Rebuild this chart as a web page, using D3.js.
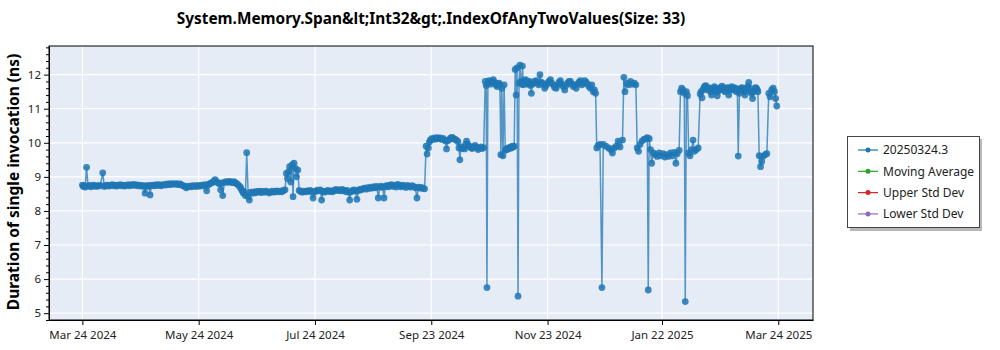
<!DOCTYPE html>
<html><head><meta charset="utf-8">
<script src="https://cdn.jsdelivr.net/npm/d3@7"></script>
<style>body{margin:0;background:#fff}svg{display:block}</style>
</head><body><svg id="c" width="1000" height="350"></svg>
<script>
const chartTitle = "System.Memory.Span&lt;Int32&gt;.IndexOfAnyTwoValues(Size: 33)";
const yLabel = "Duration of single invocation (ns)";
const seriesNames = ["20250324.3", "Moving Average", "Upper Std Dev", "Lower Std Dev"];
const seriesColors = ["#1f77b4", "#2ca02c", "#d62728", "#9467bd"];
const baseDate = "2024-03-24";
// [days after baseDate, duration in ns]
const samples = [
 [0,8.76],[0.5,8.72],[1,8.74],[1.5,8.70],[2.2,9.28],[3,8.73],[3.7,8.75],[4.5,8.71],[5.3,8.74],[6,8.76],[7,8.72],[7.8,8.74],[8.6,8.73],[9.4,8.75],[10.7,9.12],[11.5,8.72],[12.3,8.74],[13,8.76],[14,8.73],[14.8,8.75],[15.6,8.77],[16.5,8.74],[17.3,8.76],[18,8.73],[19,8.75],[19.8,8.77],[20.6,8.74],[21.5,8.76],[22.3,8.73],[23,8.75],[24,8.77],[24.8,8.74],[25.6,8.76],[26.5,8.78],[27.3,8.75],[28,8.77],[29,8.74],[29.8,8.76],[30.6,8.73],[31.5,8.75],[32.2,8.72],[32.9,8.52],[33.5,8.74],[34.2,8.72],[35,8.75],[35.5,8.47],[36.2,8.74],[37,8.76],[38,8.74],[38.8,8.77],[39.6,8.75],[40.5,8.77],[41.3,8.74],[42,8.76],[43,8.78],[43.8,8.76],[44.6,8.79],[45.5,8.77],[46.3,8.80],[47,8.78],[48,8.80],[48.8,8.78],[49.6,8.80],[50.5,8.77],[51.3,8.79],[52,8.76],[53,8.74],[53.8,8.72],[54.5,8.68],[55.3,8.71],[56,8.73],[57,8.71],[57.8,8.74],[58.6,8.72],[59.5,8.74],[60.3,8.72],[61,8.75],[62,8.73],[62.8,8.76],[63.5,8.74],[64.3,8.77],[65.2,8.59],[65.9,8.76],[66.5,8.79],[67.3,8.81],[68,8.83],[68.8,8.87],[69.6,8.92],[70.3,8.86],[71,8.83],[71.8,8.80],[72.5,8.62],[73.1,8.82],[73.6,8.45],[74.5,8.84],[75.3,8.86],[76,8.84],[77,8.87],[77.8,8.85],[78.6,8.83],[79.5,8.86],[80.3,8.82],[81,8.80],[81.8,8.76],[82.5,8.72],[83,8.68],[83.5,8.62],[84,8.58],[84.5,8.52],[85,8.56],[85.5,8.45],[86.2,9.71],[87,8.42],[87.6,8.32],[88.3,8.55],
 [89,8.52],[89.8,8.56],[90.5,8.53],[91.3,8.57],[92,8.55],[93,8.58],[93.8,8.54],[94.6,8.57],[95.5,8.55],[96.3,8.58],[97,8.56],[98,8.53],[98.8,8.56],[99.6,8.58],[100.5,8.55],[101.3,8.57],[102,8.59],[103,8.56],[103.8,8.58],[104.6,8.56],[105.5,8.6],[106.3,8.62],[107,9.1],[107.6,8.95],[108.2,9.15],[108.7,9.3],[109.3,8.85],[110,9.35],[110.5,8.42],[111,9.4],[111.7,9.25],[112.3,9.0],[113,9.2],[113.7,8.6],[114.5,8.57],[115.3,8.55],[116,8.58],[117,8.56],[117.8,8.59],[118.6,8.57],[119.5,8.6],[120.3,8.57],[121,8.38],[121.8,8.56],[122.5,8.58],[123.3,8.61],[124,8.59],[124.8,8.62],[125.5,8.32],[126.2,8.57],[127,8.55],[128,8.58],[128.8,8.6],[129.6,8.57],[130.5,8.59],[131.3,8.56],[132,8.6],[133,8.63],[133.8,8.6],[134.6,8.62],[135.5,8.59],[136.3,8.63],[137,8.6],[138,8.57],[138.8,8.6],[139.6,8.55],[140.2,8.32],[141,8.56],[141.8,8.6],[142.5,8.62],[143.3,8.58],[144,8.34],[144.8,8.6],[145.5,8.63],[146.3,8.62],[147,8.65],[148,8.67],[148.8,8.64],[149.6,8.68],[150.5,8.66],[151.3,8.7],[152,8.67],[153,8.71],[153.8,8.68],[154.5,8.72],[155.2,8.38],[156,8.7],[156.8,8.73],[157.5,8.69],[158.2,8.38],[159,8.72],[159.8,8.75],[160.5,8.71],[161.3,8.74],[162,8.77],[163,8.72],[163.8,8.76],[164.6,8.7],[165.5,8.78],[166.3,8.74],[167,8.71],[168,8.76],[168.8,8.73],[169.6,8.69],[170.5,8.75],[171.3,8.72],[172,8.7],[173,8.74],[173.8,8.71],[174.6,8.68],[175.5,8.38],[176.2,8.7],[177,8.67],[177.8,8.69],[178.6,8.66],[179.5,8.65],
 [180.3,9.9],[180.8,9.67],[181.5,9.85],[182,10.02],[182.5,10.08],[183.2,10.12],[184,10.1],[184.7,10.14],[185.5,10.11],[186.2,10.15],[187,10.12],[187.7,10.14],[188.5,10.1],[189.2,10.13],[190,10.08],[190.5,10.05],[191,9.82],[191.7,10.06],[192.5,10.1],[193.2,10.14],[194,10.16],[194.7,10.12],[195.5,10.1],[196.2,10.08],[197,10.03],[197.5,9.85],[198,9.5],[198.6,9.88],[199.2,9.83],[200,9.86],[200.5,9.82],[201,9.95],[201.5,10.05],[202.2,9.95],[203,9.9],[203.7,9.86],[204.5,9.83],[205.2,9.88],[206,9.92],[206.7,9.86],[207.5,9.8],[208.2,9.85],[209,9.88],[209.7,9.83],[210.5,9.86],
 [211.3,11.8],[211.8,11.68],[212.2,5.75],[212.7,11.75],[213.2,11.82],[213.7,11.78],[214.2,11.72],[214.8,11.8],[215.5,11.85],[216,11.78],[216.5,11.76],[217,11.7],[217.5,11.65],[218,11.72],[218.5,11.75],[219,11.7],[219.5,9.65],[220,11.6],[220.6,9.62],[221.2,11.7],[221.8,9.78],[222.3,9.82],[222.8,9.8],[223.5,9.85],[224,9.83],[224.5,9.87],[225,9.85],[225.5,9.9],[226,9.88],[226.5,9.9],[227,12.15],[227.5,11.4],[228,12.2],[228.5,5.5],[229,11.75],[229.5,12.28],[230,11.8],[230.5,11.72],[230.8,12.25],[231.3,11.7],[231.8,11.82],[232.5,11.85],[233,11.75],[233.5,11.72],[234,11.78],[234.5,11.8],[235,11.68],[235.5,11.45],[236,11.72],[236.5,11.75],[237.2,11.8],[238,11.82],[238.7,11.76],[239.3,11.7],[240,12.0],[240.6,11.78],[241.2,11.75],[241.8,11.7],[242.5,11.6],[243.2,11.68],[244,11.75],[244.7,11.8],[245.5,11.85],[246.2,11.75],[247,11.7],[247.7,11.62],[248.5,11.6],[249.2,11.7],[250,11.78],[250.7,11.82],[251.5,11.72],[252.2,11.65],[253,11.55],[253.7,11.68],[254.5,11.75],[255.2,11.8],[256,11.8],[256.7,11.72],[257.5,11.65],[258.2,11.7],[259,11.6],[259.7,11.72],[260.5,11.78],[261.2,11.82],[262,11.7],[262.7,11.75],[263.5,11.82],[264.2,11.78],[265,11.72],[265.7,11.65],[266.5,11.6],[267.2,11.7],[268,11.5],[268.6,11.55],[269.2,11.45],
 [269.8,9.85],[270.5,9.92],[271.5,9.95],[272.5,5.75],[273.2,9.95],[274.5,9.9],[276,9.85],[277,9.8],[278,9.7],[279,9.85],[280,9.9],[281,10.05],[282,9.88],[283.3,10.08],
 [284,11.92],[284.6,11.5],[285.5,11.75],[286.5,11.7],[287.5,11.8],[288.5,11.72],[289.5,11.75],[290.3,11.7],
 [291,9.85],[291.7,9.75],[292.5,9.95],[293.5,10.05],[294.5,10.1],[295.5,10.12],[296.3,10.15],[296.8,5.68],[297.3,10.12],[298,9.8],[298.6,9.4],[299.5,9.7],[300.5,9.65],[301.5,9.6],[302.5,9.7],[303.5,9.62],[304.5,9.68],[305.5,9.58],[306.5,9.65],[307.5,9.6],[308.5,9.7],[309.5,9.62],[310.5,9.72],[311.3,9.4],[312,9.68],[313,9.78],
 [313.7,11.5],[314.3,11.6],[315,11.55],[315.7,11.45],[316.2,5.34],[316.8,11.5],[317.4,11.38],
 [318,9.7],[318.7,9.62],[319.5,9.8],[320.3,10.08],[321,9.75],[322,9.8],[323,9.85],
 [324,11.43],[324.5,11.5],[325,11.32],[325.5,11.55],[326,11.62],[326.5,11.66],[327,11.68],[327.5,11.6],[328,11.55],[328.5,11.62],[329,11.58],[329.5,11.5],[330,11.4],[330.5,11.55],[331,11.6],[331.5,11.65],[332,11.5],[332.5,11.58],[333,11.38],[333.5,11.52],[334,11.55],[334.5,11.62],[335,11.6],[335.5,11.66],[336,11.62],[336.5,11.55],[337,11.5],[337.5,11.6],[338,11.58],[338.5,11.62],[339,11.4],[339.5,11.55],[340,11.6],[340.5,11.65],[341,11.55],[341.5,11.6],[342,11.62],[342.5,11.56],[343,11.5],[343.5,11.58],[344,9.61],[344.6,11.45],[345,11.55],[345.5,11.6],[346,11.62],[346.5,11.55],[347,11.5],[347.5,11.4],[348,11.55],[348.5,11.6],[349,11.65],[349.5,11.77],[350,11.6],[350.5,11.5],[351,11.45],[351.5,11.3],[352,11.5],[352.5,11.55],[353,11.62],[353.5,11.6],[354,11.55],[354.3,11.5],
 [355,9.62],[355.7,9.3],[356.3,9.45],[357,9.6],[358,9.65],[359,9.68],
 [360,11.45],[360.7,11.35],[361.5,11.55],[362.3,11.6],[363,11.5],[363.6,11.3],[364.2,11.08]
];
const xTickDates = ["2024-03-24","2024-05-24","2024-07-24","2024-09-23","2024-11-23","2025-01-22","2025-03-24"];
const yTicks = [5, 6, 7, 8, 9, 10, 11, 12];
const xDomain = ["2024-03-06T12:00:00Z", "2025-04-11T05:00:00Z"];
const yDomain = [4.8, 12.84];

const svg = d3.select("#c");
const L = 49, R = 813, T = 46, B = 320;
const font = "'Segoe UI','Noto Sans',sans-serif";
const parse = d3.utcParse("%Y-%m-%d");
const base = parse(baseDate).getTime();
const data = samples.map(([d, v]) => ({ t: new Date(base + d * 864e5), v }));

const x = d3.scaleUtc().domain(xDomain.map(s => new Date(s))).range([L, R]);
const y = d3.scaleLinear().domain(yDomain).range([B, T]);

svg.append("rect").attr("x", L).attr("y", T).attr("width", R - L).attr("height", B - T).attr("fill", "#e5ecf6");
svg.append("clipPath").attr("id", "pc").append("rect").attr("x", L).attr("y", T).attr("width", R - L).attr("height", B - T);

const xt = xTickDates.map(parse);
svg.append("g").selectAll("line").data(xt).join("line")
  .attr("x1", d => x(d)).attr("x2", d => x(d)).attr("y1", T).attr("y2", B)
  .attr("stroke", "#fff").attr("stroke-width", 1.2);
svg.append("g").selectAll("line").data(yTicks).join("line")
  .attr("y1", d => y(d)).attr("y2", d => y(d)).attr("x1", L).attr("x2", R)
  .attr("stroke", "#fff").attr("stroke-width", 1.2);

const g = svg.append("g").attr("clip-path", "url(#pc)");
g.append("path").datum(data)
  .attr("d", d3.line().x(d => x(d.t)).y(d => y(d.v)))
  .attr("fill", "none").attr("stroke", seriesColors[0]).attr("stroke-width", 1.5).attr("stroke-opacity", 0.75);
g.append("g").selectAll("circle").data(data).join("circle")
  .attr("cx", d => x(d.t)).attr("cy", d => y(d.v)).attr("r", 3.4)
  .attr("fill", seriesColors[0]).attr("fill-opacity", 0.85);

const fmt = d3.utcFormat("%b %d %Y");
const xAxis = svg.append("g").attr("transform", `translate(0,${B})`)
  .call(d3.axisBottom(x).tickValues(xt).tickFormat(fmt).tickSize(5).tickSizeOuter(0));
const minor = d3.range(yDomain[0], yDomain[1] + 1e-9, 0.2).filter(v => Math.abs(v - Math.round(v)) > 1e-6);
svg.append("g").attr("transform", `translate(${L},0)`)
  .call(d3.axisLeft(y).tickValues(minor).tickSize(3).tickFormat("").tickSizeOuter(0))
  .call(a => a.select(".domain").remove());
const yAxis = svg.append("g").attr("transform", `translate(${L},0)`)
  .call(d3.axisLeft(y).tickValues(yTicks).tickSize(5).tickSizeOuter(0));
[xAxis, yAxis].forEach(a => {
  a.selectAll("text").attr("font-family", font).attr("font-size", 11.5).attr("fill", "#222");
});
xAxis.selectAll("text").attr("dy", "0.95em");
svg.selectAll(".tick line").attr("stroke", "#000");

svg.append("rect").attr("x", L).attr("y", T).attr("width", R - L).attr("height", B - T)
  .attr("fill", "none").attr("stroke", "#000").attr("stroke-width", 1);

svg.append("text").attr("x", (L + R) / 2).attr("y", 24).attr("text-anchor", "middle")
  .attr("font-family", font).attr("font-size", 15.4).attr("font-weight", "bold").attr("fill", "#000")
  .text(chartTitle);
svg.append("text").attr("transform", `translate(19,${(T + B) / 2 - 1}) rotate(-90)`).attr("text-anchor", "middle")
  .attr("font-family", font).attr("font-size", 15.5).attr("font-weight", "bold").attr("fill", "#000")
  .text(yLabel);

const lg = svg.append("g");
lg.append("rect").attr("x", 850).attr("y", 139).attr("width", 132).attr("height", 92).attr("fill", "#888").attr("opacity", 0.6);
lg.append("rect").attr("x", 847.5).attr("y", 136.5).attr("width", 132).attr("height", 91).attr("fill", "#fff").attr("stroke", "#444").attr("stroke-width", 1);
seriesNames.forEach((n, i) => {
  const yy = 150 + i * 21.3;
  lg.append("line").attr("x1", 858).attr("x2", 878).attr("y1", yy).attr("y2", yy).attr("stroke", seriesColors[i]).attr("stroke-width", 1.2);
  lg.append("circle").attr("cx", 868).attr("cy", yy).attr("r", 2.5).attr("fill", seriesColors[i]);
  lg.append("text").attr("x", 883).attr("y", yy).attr("dy", "0.35em").attr("font-family", font).attr("font-size", 12).attr("fill", "#222").text(n);
});
</script></body></html>
